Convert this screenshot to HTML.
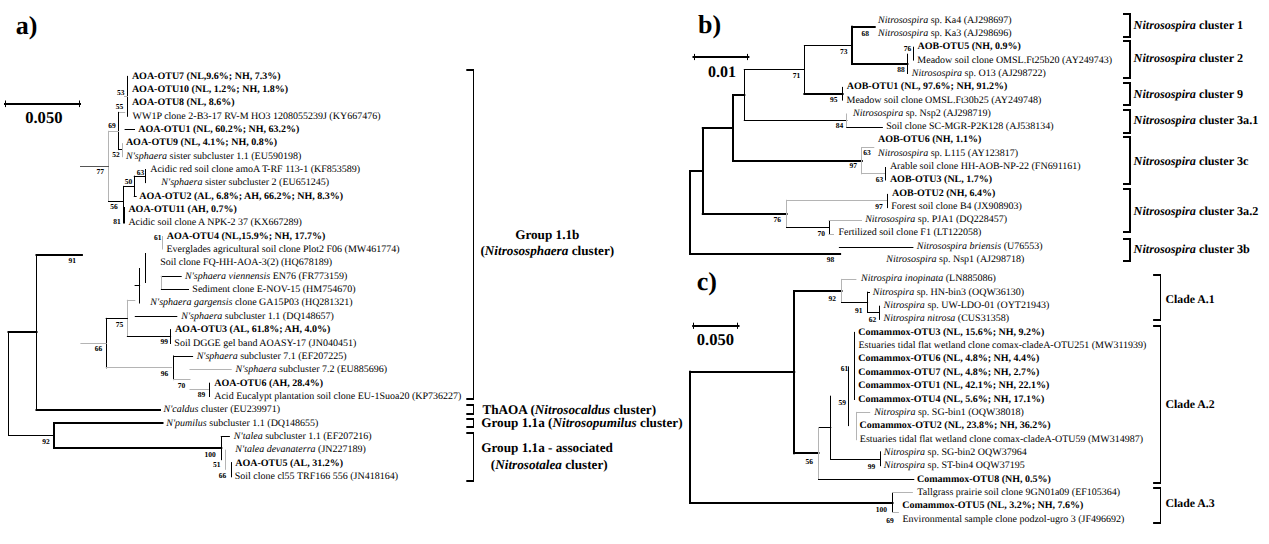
<!DOCTYPE html>
<html><head><meta charset="utf-8"><title>Phylogenetic trees</title>
<style>
html,body{margin:0;padding:0;background:#fff;}
body{width:1269px;height:544px;overflow:hidden;}
svg{display:block;font-family:"Liberation Serif",serif;text-rendering:geometricPrecision;}
</style></head><body>
<svg width="1269" height="544" viewBox="0 0 1269 544">
<rect width="1269" height="544" fill="#fff"/>
<text x="15.66" y="33.60" font-size="26" fill="#000"><tspan font-weight="bold">a)</tspan></text>
<line x1="5.00" y1="104.00" x2="80.00" y2="104.00" stroke="#000" stroke-width="2" stroke-linecap="square"/>
<line x1="5.50" y1="101.00" x2="5.50" y2="106.60" stroke="#000" stroke-width="1" stroke-linecap="square"/>
<line x1="79.50" y1="101.00" x2="79.50" y2="106.60" stroke="#000" stroke-width="1" stroke-linecap="square"/>
<text x="25.17" y="123.00" font-size="16.6" fill="#000"><tspan font-weight="bold">0.050</tspan></text>
<text x="131.90" y="78.50" font-size="10" fill="#000"><tspan font-weight="bold">AOA-OTU7 (NL,9.6%; NH, 7.3%)</tspan></text>
<text x="131.90" y="91.85" font-size="10" fill="#000"><tspan font-weight="bold">AOA-OTU10 (NL, 1.2%; NH, 1.8%)</tspan></text>
<text x="131.90" y="105.20" font-size="10" fill="#000"><tspan font-weight="bold">AOA-OTU8 (NL, 8.6%)</tspan></text>
<text x="132.59" y="118.55" font-size="10" fill="#000"><tspan>WW1P clone 2-B3-17 RV-M HO3 1208055239J (KY667476)</tspan></text>
<text x="138.30" y="131.90" font-size="10" fill="#000"><tspan font-weight="bold">AOA-OTU1 (NL, 60.2%; NH, 63.2%)</tspan></text>
<text x="125.90" y="145.25" font-size="10" fill="#000"><tspan font-weight="bold">AOA-OTU9 (NL, 4.1%; NH, 0.8%)</tspan></text>
<text x="126.07" y="158.60" font-size="10" fill="#000"><tspan font-style="italic">N&#x27;sphaera</tspan><tspan> sister subcluster 1.1 (EU590198)</tspan></text>
<text x="150.20" y="171.95" font-size="10" fill="#000"><tspan>Acidic red soil clone amoA T-RF 113-1 (KF853589)</tspan></text>
<text x="161.37" y="185.30" font-size="10" fill="#000"><tspan font-style="italic">N&#x27;sphaera</tspan><tspan> sister subcluster 2 (EU651245)</tspan></text>
<text x="139.20" y="198.65" font-size="10" fill="#000"><tspan font-weight="bold">AOA-OTU2 (AL, 6.8%; AH, 66.2%; NH, 8.3%)</tspan></text>
<text x="128.40" y="212.00" font-size="10" fill="#000"><tspan font-weight="bold">AOA-OTU11 (AH, 0.7%)</tspan></text>
<text x="128.40" y="225.35" font-size="10" fill="#000"><tspan>Acidic soil clone A NPK-2 37 (KX667289)</tspan></text>
<text x="166.70" y="238.70" font-size="10" fill="#000"><tspan font-weight="bold">AOA-OTU4 (NL,15.9%; NH, 17.7%)</tspan></text>
<text x="166.51" y="252.05" font-size="10" fill="#000"><tspan>Everglades agricultural soil clone Plot2 F06 (MW461774)</tspan></text>
<text x="160.23" y="265.40" font-size="10" fill="#000"><tspan>Soil clone FQ-HH-AOA-3(2) (HQ678189)</tspan></text>
<text x="184.97" y="278.75" font-size="10" fill="#000"><tspan font-style="italic">N&#x27;sphaera viennensis</tspan><tspan> EN76 (FR773159)</tspan></text>
<text x="192.33" y="292.10" font-size="10" fill="#000"><tspan>Sediment clone E-NOV-15 (HM754670)</tspan></text>
<text x="150.37" y="305.45" font-size="10" fill="#000"><tspan font-style="italic">N&#x27;sphaera gargensis</tspan><tspan> clone GA15P03 (HQ281321)</tspan></text>
<text x="181.27" y="318.80" font-size="10" fill="#000"><tspan font-style="italic">N&#x27;sphaera</tspan><tspan> subcluster 1.1 (DQ148657)</tspan></text>
<text x="174.90" y="332.15" font-size="10" fill="#000"><tspan font-weight="bold">AOA-OTU3 (AL, 61.8%; AH, 4.0%)</tspan></text>
<text x="174.33" y="345.50" font-size="10" fill="#000"><tspan>Soil DGGE gel band AOASY-17 (JN040451)</tspan></text>
<text x="196.67" y="358.85" font-size="10" fill="#000"><tspan font-style="italic">N&#x27;sphaera</tspan><tspan> subcluster 7.1 (EF207225)</tspan></text>
<text x="235.47" y="372.20" font-size="10" fill="#000"><tspan font-style="italic">N&#x27;sphaera</tspan><tspan> subcluster 7.2 (EU885696)</tspan></text>
<text x="214.20" y="385.55" font-size="10" fill="#000"><tspan font-weight="bold">AOA-OTU6 (AH, 28.4%)</tspan></text>
<text x="214.20" y="398.90" font-size="10" fill="#000"><tspan>Acid Eucalypt plantation soil clone EU-1Suoa20 (KP736227)</tspan></text>
<text x="163.57" y="412.25" font-size="10" fill="#000"><tspan font-style="italic">N&#x27;caldus</tspan><tspan> cluster (EU239971)</tspan></text>
<text x="166.27" y="425.60" font-size="10" fill="#000"><tspan font-style="italic">N&#x27;pumilus</tspan><tspan> subcluster 1.1 (DQ148655)</tspan></text>
<text x="233.87" y="438.95" font-size="10" fill="#000"><tspan font-style="italic">N&#x27;talea</tspan><tspan> subcluster 1.1 (EF207216)</tspan></text>
<text x="235.37" y="452.30" font-size="10" fill="#000"><tspan font-style="italic">N&#x27;talea devanaterra</tspan><tspan> (JN227189)</tspan></text>
<text x="235.20" y="465.65" font-size="10" fill="#000"><tspan font-weight="bold">AOA-OTU5 (AL, 31.2%)</tspan></text>
<text x="234.63" y="479.00" font-size="10" fill="#000"><tspan>Soil clone cl55 TRF166 556 (JN418164)</tspan></text>
<text x="117.10" y="95.00" font-size="7.5" fill="#000"><tspan font-weight="bold">53</tspan></text>
<text x="115.80" y="108.90" font-size="7.5" fill="#000"><tspan font-weight="bold">55</tspan></text>
<text x="108.14" y="127.50" font-size="7.5" fill="#000"><tspan font-weight="bold">69</tspan></text>
<text x="112.20" y="156.80" font-size="7.5" fill="#000"><tspan font-weight="bold">52</tspan></text>
<text x="96.57" y="174.30" font-size="7.5" fill="#000"><tspan font-weight="bold">77</tspan></text>
<text x="136.74" y="174.70" font-size="7.5" fill="#000"><tspan font-weight="bold">63</tspan></text>
<text x="124.70" y="184.30" font-size="7.5" fill="#000"><tspan font-weight="bold">50</tspan></text>
<text x="110.30" y="209.40" font-size="7.5" fill="#000"><tspan font-weight="bold">56</tspan></text>
<text x="113.25" y="224.10" font-size="7.5" fill="#000"><tspan font-weight="bold">81</tspan></text>
<text x="154.04" y="240.40" font-size="7.5" fill="#000"><tspan font-weight="bold">61</tspan></text>
<text x="68.59" y="262.80" font-size="7.5" fill="#000"><tspan font-weight="bold">91</tspan></text>
<text x="115.77" y="327.10" font-size="7.5" fill="#000"><tspan font-weight="bold">75</tspan></text>
<text x="160.39" y="344.30" font-size="7.5" fill="#000"><tspan font-weight="bold">99</tspan></text>
<text x="94.74" y="351.40" font-size="7.5" fill="#000"><tspan font-weight="bold">66</tspan></text>
<text x="160.79" y="375.90" font-size="7.5" fill="#000"><tspan font-weight="bold">96</tspan></text>
<text x="177.77" y="388.00" font-size="7.5" fill="#000"><tspan font-weight="bold">70</tspan></text>
<text x="197.75" y="397.20" font-size="7.5" fill="#000"><tspan font-weight="bold">89</tspan></text>
<text x="42.19" y="444.10" font-size="7.5" fill="#000"><tspan font-weight="bold">92</tspan></text>
<text x="204.50" y="456.80" font-size="7.5" fill="#000"><tspan font-weight="bold">100</tspan></text>
<text x="212.90" y="467.40" font-size="7.5" fill="#000"><tspan font-weight="bold">51</tspan></text>
<text x="218.84" y="477.50" font-size="7.5" fill="#000"><tspan font-weight="bold">66</tspan></text>
<line x1="127.50" y1="76.40" x2="127.50" y2="116.30" stroke="#000" stroke-width="1" stroke-linecap="square"/>
<line x1="124.50" y1="96.50" x2="127.40" y2="96.50" stroke="#b4b4b4" stroke-width="1" stroke-linecap="square"/>
<line x1="118.70" y1="112.50" x2="124.70" y2="112.50" stroke="#b4b4b4" stroke-width="1" stroke-linecap="square"/>
<line x1="118.50" y1="112.40" x2="118.50" y2="149.60" stroke="#000" stroke-width="1" stroke-linecap="square"/>
<line x1="108.50" y1="131.50" x2="118.60" y2="131.50" stroke="#b4b4b4" stroke-width="1" stroke-linecap="square"/>
<line x1="125.10" y1="129.50" x2="134.50" y2="129.50" stroke="#000" stroke-width="1" stroke-linecap="square"/>
<line x1="118.60" y1="149.50" x2="122.40" y2="149.50" stroke="#000" stroke-width="1" stroke-linecap="square"/>
<line x1="122.50" y1="143.60" x2="122.50" y2="156.70" stroke="#b4b4b4" stroke-width="1" stroke-linecap="square"/>
<line x1="108.50" y1="131.30" x2="108.50" y2="201.30" stroke="#b4b4b4" stroke-width="1" stroke-linecap="square"/>
<line x1="80.50" y1="166.50" x2="108.50" y2="166.50" stroke="#555" stroke-width="1" stroke-linecap="square"/>
<line x1="145.50" y1="169.50" x2="145.50" y2="182.60" stroke="#000" stroke-width="1" stroke-linecap="square"/>
<line x1="134.30" y1="176.50" x2="145.40" y2="176.50" stroke="#000" stroke-width="1" stroke-linecap="square"/>
<line x1="134.50" y1="176.20" x2="134.50" y2="196.50" stroke="#000" stroke-width="1" stroke-linecap="square"/>
<line x1="134.30" y1="196.50" x2="136.20" y2="196.50" stroke="#000" stroke-width="1" stroke-linecap="square"/>
<line x1="123.50" y1="186.50" x2="134.30" y2="186.50" stroke="#000" stroke-width="1" stroke-linecap="square"/>
<line x1="123.50" y1="186.40" x2="123.50" y2="209.00" stroke="#000" stroke-width="1" stroke-linecap="square"/>
<line x1="124.00" y1="208.00" x2="124.00" y2="222.60" stroke="#000" stroke-width="2.0" stroke-linecap="square"/>
<line x1="108.50" y1="201.50" x2="123.50" y2="201.50" stroke="#000" stroke-width="1" stroke-linecap="square"/>
<line x1="162.50" y1="236.50" x2="162.50" y2="249.00" stroke="#b4b4b4" stroke-width="1" stroke-linecap="square"/>
<line x1="145.50" y1="253.50" x2="145.50" y2="282.50" stroke="#000" stroke-width="1" stroke-linecap="square"/>
<line x1="139.50" y1="268.50" x2="139.50" y2="303.00" stroke="#000" stroke-width="1" stroke-linecap="square"/>
<line x1="135.10" y1="285.50" x2="139.60" y2="285.50" stroke="#000" stroke-width="1" stroke-linecap="square"/>
<line x1="161.40" y1="276.50" x2="181.20" y2="276.50" stroke="#000" stroke-width="1" stroke-linecap="square"/>
<line x1="161.50" y1="276.30" x2="161.50" y2="289.40" stroke="#b4b4b4" stroke-width="1" stroke-linecap="square"/>
<line x1="161.40" y1="289.50" x2="188.50" y2="289.50" stroke="#000" stroke-width="1" stroke-linecap="square"/>
<line x1="127.40" y1="300.50" x2="134.80" y2="300.50" stroke="#b4b4b4" stroke-width="1" stroke-linecap="square"/>
<line x1="127.50" y1="300.30" x2="127.50" y2="336.40" stroke="#b4b4b4" stroke-width="1" stroke-linecap="square"/>
<line x1="135.30" y1="316.50" x2="176.80" y2="316.50" stroke="#000" stroke-width="1" stroke-linecap="square"/>
<line x1="106.20" y1="318.50" x2="127.40" y2="318.50" stroke="#000" stroke-width="1" stroke-linecap="square"/>
<line x1="106.50" y1="318.40" x2="106.50" y2="367.80" stroke="#000" stroke-width="1" stroke-linecap="square"/>
<line x1="127.40" y1="336.50" x2="170.60" y2="336.50" stroke="#000" stroke-width="1" stroke-linecap="square"/>
<line x1="170.50" y1="329.60" x2="170.50" y2="343.50" stroke="#000" stroke-width="1" stroke-linecap="square"/>
<line x1="80.90" y1="343.50" x2="106.20" y2="343.50" stroke="#b4b4b4" stroke-width="1" stroke-linecap="square"/>
<line x1="106.20" y1="367.50" x2="171.60" y2="367.50" stroke="#b4b4b4" stroke-width="1" stroke-linecap="square"/>
<line x1="173.50" y1="356.00" x2="173.50" y2="379.60" stroke="#000" stroke-width="1" stroke-linecap="square"/>
<line x1="173.50" y1="356.50" x2="192.60" y2="356.50" stroke="#000" stroke-width="1" stroke-linecap="square"/>
<line x1="190.00" y1="369.50" x2="231.20" y2="369.50" stroke="#b4b4b4" stroke-width="1" stroke-linecap="square"/>
<line x1="173.50" y1="379.50" x2="190.00" y2="379.50" stroke="#b4b4b4" stroke-width="1" stroke-linecap="square"/>
<line x1="190.00" y1="389.50" x2="208.40" y2="389.50" stroke="#b4b4b4" stroke-width="1" stroke-linecap="square"/>
<line x1="209.50" y1="383.20" x2="209.50" y2="396.50" stroke="#000" stroke-width="1" stroke-linecap="square"/>
<line x1="36.50" y1="255.00" x2="81.90" y2="255.00" stroke="#000" stroke-width="2.0" stroke-linecap="square"/>
<line x1="36.50" y1="254.70" x2="36.50" y2="409.90" stroke="#000" stroke-width="1" stroke-linecap="square"/>
<line x1="8.50" y1="332.00" x2="36.50" y2="332.00" stroke="#000" stroke-width="2.0" stroke-linecap="square"/>
<line x1="8.50" y1="331.80" x2="8.50" y2="435.30" stroke="#000" stroke-width="1" stroke-linecap="square"/>
<line x1="8.50" y1="435.50" x2="54.00" y2="435.50" stroke="#000" stroke-width="1" stroke-linecap="square"/>
<line x1="36.50" y1="410.00" x2="160.00" y2="410.00" stroke="#000" stroke-width="2.0" stroke-linecap="square"/>
<line x1="54.00" y1="423.00" x2="54.00" y2="447.60" stroke="#000" stroke-width="2.0" stroke-linecap="square"/>
<line x1="54.00" y1="423.00" x2="162.50" y2="423.00" stroke="#000" stroke-width="2.0" stroke-linecap="square"/>
<line x1="54.00" y1="448.00" x2="221.30" y2="448.00" stroke="#000" stroke-width="2.0" stroke-linecap="square"/>
<line x1="221.50" y1="436.50" x2="221.50" y2="459.70" stroke="#000" stroke-width="1" stroke-linecap="square"/>
<line x1="221.30" y1="436.50" x2="229.40" y2="436.50" stroke="#000" stroke-width="1" stroke-linecap="square"/>
<line x1="225.50" y1="450.10" x2="225.50" y2="469.30" stroke="#b4b4b4" stroke-width="1" stroke-linecap="square"/>
<line x1="231.50" y1="462.60" x2="231.50" y2="476.80" stroke="#000" stroke-width="1" stroke-linecap="square"/>
<line x1="466.30" y1="70.00" x2="474.00" y2="70.00" stroke="#000" stroke-width="2.0" stroke-linecap="butt"/>
<line x1="466.30" y1="399.00" x2="474.00" y2="399.00" stroke="#000" stroke-width="2.0" stroke-linecap="butt"/>
<line x1="473.50" y1="69.00" x2="473.50" y2="400.00" stroke="#000" stroke-width="1" stroke-linecap="butt"/>
<line x1="466.30" y1="405.00" x2="474.00" y2="405.00" stroke="#000" stroke-width="2.0" stroke-linecap="butt"/>
<line x1="466.30" y1="414.00" x2="474.00" y2="414.00" stroke="#000" stroke-width="2.0" stroke-linecap="butt"/>
<line x1="473.50" y1="404.00" x2="473.50" y2="415.00" stroke="#000" stroke-width="1" stroke-linecap="butt"/>
<line x1="466.30" y1="419.00" x2="474.00" y2="419.00" stroke="#000" stroke-width="2.0" stroke-linecap="butt"/>
<line x1="466.30" y1="427.00" x2="474.00" y2="427.00" stroke="#000" stroke-width="2.0" stroke-linecap="butt"/>
<line x1="473.50" y1="418.00" x2="473.50" y2="428.00" stroke="#000" stroke-width="1" stroke-linecap="butt"/>
<line x1="466.30" y1="433.00" x2="474.00" y2="433.00" stroke="#000" stroke-width="2.0" stroke-linecap="butt"/>
<line x1="466.30" y1="481.00" x2="474.00" y2="481.00" stroke="#000" stroke-width="2.0" stroke-linecap="butt"/>
<line x1="473.50" y1="432.00" x2="473.50" y2="482.00" stroke="#000" stroke-width="1" stroke-linecap="butt"/>
<text x="515.16" y="238.90" font-size="13.2" fill="#000"><tspan font-weight="bold">Group 1.1b</tspan></text>
<text x="480.42" y="254.80" font-size="13.2" fill="#000"><tspan font-weight="bold">(</tspan><tspan font-weight="bold" font-style="italic">Nitrososphaera</tspan><tspan font-weight="bold"> cluster)</tspan></text>
<text x="482.39" y="413.50" font-size="13.2" fill="#000"><tspan font-weight="bold">ThAOA (</tspan><tspan font-weight="bold" font-style="italic">Nitrosocaldus</tspan><tspan font-weight="bold"> cluster)</tspan></text>
<text x="481.26" y="426.80" font-size="13.2" fill="#000"><tspan font-weight="bold">Group 1.1a (</tspan><tspan font-weight="bold" font-style="italic">Nitrosopumilus</tspan><tspan font-weight="bold"> cluster)</tspan></text>
<text x="481.26" y="452.40" font-size="13.2" fill="#000"><tspan font-weight="bold">Group 1.1a - associated</tspan></text>
<text x="490.82" y="468.70" font-size="13.2" fill="#000"><tspan font-weight="bold">(</tspan><tspan font-weight="bold" font-style="italic">Nitrosotalea</tspan><tspan font-weight="bold"> cluster)</tspan></text>
<text x="698.07" y="32.60" font-size="26" fill="#000"><tspan font-weight="bold">b)</tspan></text>
<line x1="693.50" y1="57.00" x2="748.40" y2="57.00" stroke="#000" stroke-width="2" stroke-linecap="square"/>
<line x1="694.50" y1="54.40" x2="694.50" y2="59.60" stroke="#000" stroke-width="1" stroke-linecap="square"/>
<line x1="747.50" y1="54.40" x2="747.50" y2="59.60" stroke="#000" stroke-width="1" stroke-linecap="square"/>
<text x="708.09" y="76.50" font-size="16" fill="#000"><tspan font-weight="bold">0.01</tspan></text>
<text x="877.97" y="22.80" font-size="10" fill="#000"><tspan font-style="italic">Nitrosospira</tspan><tspan> sp. Ka4 (AJ298697)</tspan></text>
<text x="877.97" y="36.09" font-size="10" fill="#000"><tspan font-style="italic">Nitrosospira</tspan><tspan> sp. Ka3 (AJ298696)</tspan></text>
<text x="917.50" y="49.38" font-size="10" fill="#000"><tspan font-weight="bold">AOB-OTU5 (NH, 0.9%)</tspan></text>
<text x="917.31" y="62.67" font-size="10" fill="#000"><tspan>Meadow soil clone OMSL.Ft25b20 (AY249743)</tspan></text>
<text x="911.87" y="75.96" font-size="10" fill="#000"><tspan font-style="italic">Nitrosospira</tspan><tspan> sp. O13 (AJ298722)</tspan></text>
<text x="846.70" y="89.25" font-size="10" fill="#000"><tspan font-weight="bold">AOB-OTU1 (NL, 97.6%; NH, 91.2%)</tspan></text>
<text x="846.51" y="102.54" font-size="10" fill="#000"><tspan>Meadow soil clone OMSL.Ft30b25 (AY249748)</tspan></text>
<text x="852.97" y="115.83" font-size="10" fill="#000"><tspan font-style="italic">Nitrosospira</tspan><tspan> sp. Nsp2 (AJ298719)</tspan></text>
<text x="886.13" y="129.12" font-size="10" fill="#000"><tspan>Soil clone SC-MGR-P2K128 (AJ538134)</tspan></text>
<text x="878.10" y="142.41" font-size="10" fill="#000"><tspan font-weight="bold">AOB-OTU6 (NH, 1.1%)</tspan></text>
<text x="877.97" y="155.70" font-size="10" fill="#000"><tspan font-style="italic">Nitrosospira</tspan><tspan> sp. L115 (AY123817)</tspan></text>
<text x="889.90" y="168.99" font-size="10" fill="#000"><tspan>Arable soil clone HH-AOB-NP-22 (FN691161)</tspan></text>
<text x="889.90" y="182.28" font-size="10" fill="#000"><tspan font-weight="bold">AOB-OTU3 (NL, 1.7%)</tspan></text>
<text x="892.10" y="195.57" font-size="10" fill="#000"><tspan font-weight="bold">AOB-OTU2 (NH, 6.4%)</tspan></text>
<text x="891.31" y="208.86" font-size="10" fill="#000"><tspan>Forest soil clone B4 (JX908903)</tspan></text>
<text x="865.17" y="222.15" font-size="10" fill="#000"><tspan font-style="italic">Nitrosospira</tspan><tspan> sp. PJA1 (DQ228457)</tspan></text>
<text x="838.41" y="235.44" font-size="10" fill="#000"><tspan>Fertilized soil clone F1 (LT122058)</tspan></text>
<text x="916.77" y="248.73" font-size="10" fill="#000"><tspan font-style="italic">Nitrosospira briensis</tspan><tspan> (U76553)</tspan></text>
<text x="886.37" y="262.02" font-size="10" fill="#000"><tspan font-style="italic">Nitrosospira</tspan><tspan> sp. Nsp1 (AJ298718)</tspan></text>
<text x="792.77" y="77.60" font-size="7.5" fill="#000"><tspan font-weight="bold">71</tspan></text>
<text x="839.97" y="53.70" font-size="7.5" fill="#000"><tspan font-weight="bold">73</tspan></text>
<text x="861.54" y="36.00" font-size="7.5" fill="#000"><tspan font-weight="bold">68</tspan></text>
<text x="903.87" y="51.00" font-size="7.5" fill="#000"><tspan font-weight="bold">76</tspan></text>
<text x="897.35" y="71.60" font-size="7.5" fill="#000"><tspan font-weight="bold">88</tspan></text>
<text x="829.89" y="101.60" font-size="7.5" fill="#000"><tspan font-weight="bold">95</tspan></text>
<text x="835.75" y="128.10" font-size="7.5" fill="#000"><tspan font-weight="bold">84</tspan></text>
<text x="863.24" y="155.00" font-size="7.5" fill="#000"><tspan font-weight="bold">63</tspan></text>
<text x="849.39" y="167.50" font-size="7.5" fill="#000"><tspan font-weight="bold">97</tspan></text>
<text x="875.74" y="182.20" font-size="7.5" fill="#000"><tspan font-weight="bold">63</tspan></text>
<text x="875.19" y="209.10" font-size="7.5" fill="#000"><tspan font-weight="bold">97</tspan></text>
<text x="773.57" y="222.40" font-size="7.5" fill="#000"><tspan font-weight="bold">76</tspan></text>
<text x="817.57" y="235.60" font-size="7.5" fill="#000"><tspan font-weight="bold">70</tspan></text>
<text x="826.69" y="262.10" font-size="7.5" fill="#000"><tspan font-weight="bold">98</tspan></text>
<line x1="804.40" y1="45.50" x2="852.20" y2="45.50" stroke="#000" stroke-width="1" stroke-linecap="square"/>
<line x1="804.50" y1="45.60" x2="804.50" y2="93.80" stroke="#000" stroke-width="1" stroke-linecap="square"/>
<line x1="744.30" y1="69.50" x2="804.50" y2="69.50" stroke="#000" stroke-width="1" stroke-linecap="square"/>
<line x1="852.00" y1="26.80" x2="852.00" y2="64.00" stroke="#000" stroke-width="2.0" stroke-linecap="square"/>
<line x1="852.20" y1="27.00" x2="874.70" y2="27.00" stroke="#000" stroke-width="2.0" stroke-linecap="square"/>
<line x1="852.20" y1="64.00" x2="907.40" y2="64.00" stroke="#000" stroke-width="2.0" stroke-linecap="square"/>
<line x1="907.50" y1="54.20" x2="907.50" y2="73.50" stroke="#000" stroke-width="1" stroke-linecap="square"/>
<line x1="913.50" y1="47.20" x2="913.50" y2="60.10" stroke="#000" stroke-width="1" stroke-linecap="square"/>
<line x1="804.40" y1="94.00" x2="842.60" y2="94.00" stroke="#000" stroke-width="2.0" stroke-linecap="square"/>
<line x1="842.50" y1="87.40" x2="842.50" y2="100.10" stroke="#000" stroke-width="1" stroke-linecap="square"/>
<line x1="744.50" y1="69.90" x2="744.50" y2="120.50" stroke="#000" stroke-width="1" stroke-linecap="square"/>
<line x1="744.30" y1="120.50" x2="846.80" y2="120.50" stroke="#000" stroke-width="1" stroke-linecap="square"/>
<line x1="846.50" y1="114.00" x2="846.50" y2="127.40" stroke="#b4b4b4" stroke-width="1" stroke-linecap="square"/>
<line x1="846.80" y1="127.50" x2="882.40" y2="127.50" stroke="#000" stroke-width="1" stroke-linecap="square"/>
<line x1="733.00" y1="95.00" x2="744.30" y2="95.00" stroke="#000" stroke-width="2.0" stroke-linecap="square"/>
<line x1="733.00" y1="95.00" x2="733.00" y2="160.60" stroke="#000" stroke-width="2.0" stroke-linecap="square"/>
<line x1="733.00" y1="161.00" x2="861.80" y2="161.00" stroke="#000" stroke-width="2.0" stroke-linecap="square"/>
<line x1="861.50" y1="147.60" x2="861.50" y2="173.80" stroke="#b4b4b4" stroke-width="1" stroke-linecap="square"/>
<line x1="861.80" y1="147.50" x2="873.80" y2="147.50" stroke="#b4b4b4" stroke-width="1" stroke-linecap="square"/>
<line x1="861.80" y1="173.50" x2="884.90" y2="173.50" stroke="#b4b4b4" stroke-width="1" stroke-linecap="square"/>
<line x1="885.50" y1="167.50" x2="885.50" y2="180.00" stroke="#000" stroke-width="1" stroke-linecap="square"/>
<line x1="702.80" y1="128.00" x2="733.00" y2="128.00" stroke="#000" stroke-width="2.0" stroke-linecap="square"/>
<line x1="703.00" y1="128.10" x2="703.00" y2="213.50" stroke="#000" stroke-width="2.0" stroke-linecap="square"/>
<line x1="702.80" y1="214.00" x2="786.60" y2="214.00" stroke="#000" stroke-width="2.0" stroke-linecap="square"/>
<line x1="690.00" y1="171.00" x2="702.80" y2="171.00" stroke="#000" stroke-width="2.0" stroke-linecap="square"/>
<line x1="690.00" y1="170.90" x2="690.00" y2="253.70" stroke="#000" stroke-width="2.0" stroke-linecap="square"/>
<line x1="690.00" y1="254.00" x2="840.10" y2="254.00" stroke="#000" stroke-width="2.0" stroke-linecap="square"/>
<line x1="786.50" y1="200.30" x2="786.50" y2="227.50" stroke="#b4b4b4" stroke-width="1" stroke-linecap="square"/>
<line x1="786.50" y1="200.50" x2="887.20" y2="200.50" stroke="#b4b4b4" stroke-width="1" stroke-linecap="square"/>
<line x1="887.50" y1="194.40" x2="887.50" y2="207.60" stroke="#000" stroke-width="1" stroke-linecap="square"/>
<line x1="786.50" y1="227.50" x2="829.10" y2="227.50" stroke="#000" stroke-width="1" stroke-linecap="square"/>
<line x1="829.50" y1="220.90" x2="829.50" y2="234.10" stroke="#000" stroke-width="1" stroke-linecap="square"/>
<line x1="829.10" y1="220.50" x2="861.50" y2="220.50" stroke="#b4b4b4" stroke-width="1" stroke-linecap="square"/>
<line x1="829.10" y1="234.50" x2="833.50" y2="234.50" stroke="#b4b4b4" stroke-width="1" stroke-linecap="square"/>
<line x1="839.40" y1="247.50" x2="912.90" y2="247.50" stroke="#000" stroke-width="1" stroke-linecap="square"/>
<line x1="1123.00" y1="14.00" x2="1131.00" y2="14.00" stroke="#000" stroke-width="2.0" stroke-linecap="butt"/>
<line x1="1123.00" y1="37.00" x2="1131.00" y2="37.00" stroke="#000" stroke-width="2.0" stroke-linecap="butt"/>
<line x1="1130.00" y1="13.00" x2="1130.00" y2="38.00" stroke="#000" stroke-width="2.0" stroke-linecap="butt"/>
<line x1="1123.00" y1="41.00" x2="1131.00" y2="41.00" stroke="#000" stroke-width="2.0" stroke-linecap="butt"/>
<line x1="1123.00" y1="78.00" x2="1131.00" y2="78.00" stroke="#000" stroke-width="2.0" stroke-linecap="butt"/>
<line x1="1130.00" y1="40.00" x2="1130.00" y2="79.00" stroke="#000" stroke-width="2.0" stroke-linecap="butt"/>
<line x1="1123.00" y1="83.00" x2="1131.00" y2="83.00" stroke="#000" stroke-width="2.0" stroke-linecap="butt"/>
<line x1="1123.00" y1="105.00" x2="1131.00" y2="105.00" stroke="#000" stroke-width="2.0" stroke-linecap="butt"/>
<line x1="1130.00" y1="82.00" x2="1130.00" y2="106.00" stroke="#000" stroke-width="2.0" stroke-linecap="butt"/>
<line x1="1123.00" y1="110.00" x2="1131.00" y2="110.00" stroke="#000" stroke-width="2.0" stroke-linecap="butt"/>
<line x1="1123.00" y1="133.00" x2="1131.00" y2="133.00" stroke="#000" stroke-width="2.0" stroke-linecap="butt"/>
<line x1="1130.00" y1="109.00" x2="1130.00" y2="134.00" stroke="#000" stroke-width="2.0" stroke-linecap="butt"/>
<line x1="1123.00" y1="137.00" x2="1131.00" y2="137.00" stroke="#000" stroke-width="2.0" stroke-linecap="butt"/>
<line x1="1123.00" y1="184.00" x2="1131.00" y2="184.00" stroke="#000" stroke-width="2.0" stroke-linecap="butt"/>
<line x1="1130.00" y1="136.00" x2="1130.00" y2="185.00" stroke="#000" stroke-width="2.0" stroke-linecap="butt"/>
<line x1="1123.00" y1="189.00" x2="1131.00" y2="189.00" stroke="#000" stroke-width="2.0" stroke-linecap="butt"/>
<line x1="1123.00" y1="232.00" x2="1131.00" y2="232.00" stroke="#000" stroke-width="2.0" stroke-linecap="butt"/>
<line x1="1130.00" y1="188.00" x2="1130.00" y2="233.00" stroke="#000" stroke-width="2.0" stroke-linecap="butt"/>
<line x1="1123.00" y1="239.00" x2="1131.00" y2="239.00" stroke="#000" stroke-width="2.0" stroke-linecap="butt"/>
<line x1="1123.00" y1="261.00" x2="1131.00" y2="261.00" stroke="#000" stroke-width="2.0" stroke-linecap="butt"/>
<line x1="1130.00" y1="238.00" x2="1130.00" y2="262.00" stroke="#000" stroke-width="2.0" stroke-linecap="butt"/>
<text x="1133.61" y="28.70" font-size="12.2" fill="#000"><tspan font-weight="bold" font-style="italic">Nitrosospira</tspan><tspan font-weight="bold"> cluster 1</tspan></text>
<text x="1133.61" y="61.80" font-size="12.2" fill="#000"><tspan font-weight="bold" font-style="italic">Nitrosospira</tspan><tspan font-weight="bold"> cluster 2</tspan></text>
<text x="1133.61" y="97.60" font-size="12.2" fill="#000"><tspan font-weight="bold" font-style="italic">Nitrosospira</tspan><tspan font-weight="bold"> cluster 9</tspan></text>
<text x="1133.61" y="124.40" font-size="12.2" fill="#000"><tspan font-weight="bold" font-style="italic">Nitrosospira</tspan><tspan font-weight="bold"> cluster 3a.1</tspan></text>
<text x="1133.61" y="164.70" font-size="12.2" fill="#000"><tspan font-weight="bold" font-style="italic">Nitrosospira</tspan><tspan font-weight="bold"> cluster 3c</tspan></text>
<text x="1133.61" y="214.70" font-size="12.2" fill="#000"><tspan font-weight="bold" font-style="italic">Nitrosospira</tspan><tspan font-weight="bold"> cluster 3a.2</tspan></text>
<text x="1133.61" y="253.40" font-size="12.2" fill="#000"><tspan font-weight="bold" font-style="italic">Nitrosospira</tspan><tspan font-weight="bold"> cluster 3b</tspan></text>
<text x="696.71" y="290.10" font-size="26" fill="#000"><tspan font-weight="bold">c)</tspan></text>
<line x1="693.20" y1="326.00" x2="738.50" y2="326.00" stroke="#000" stroke-width="2" stroke-linecap="square"/>
<line x1="693.50" y1="323.20" x2="693.50" y2="328.40" stroke="#000" stroke-width="1" stroke-linecap="square"/>
<line x1="737.50" y1="323.20" x2="737.50" y2="328.40" stroke="#000" stroke-width="1" stroke-linecap="square"/>
<text x="696.77" y="345.30" font-size="16.6" fill="#000"><tspan font-weight="bold">0.050</tspan></text>
<text x="861.07" y="281.20" font-size="10" fill="#000"><tspan font-style="italic">Nitrospira inopinata</tspan><tspan> (LN885086)</tspan></text>
<text x="872.87" y="294.57" font-size="10" fill="#000"><tspan font-style="italic">Nitrospira</tspan><tspan> sp. HN-bin3 (OQW36130)</tspan></text>
<text x="883.57" y="307.94" font-size="10" fill="#000"><tspan font-style="italic">Nitrospira</tspan><tspan> sp. UW-LDO-01 (OYT21943)</tspan></text>
<text x="883.57" y="321.31" font-size="10" fill="#000"><tspan font-style="italic">Nitrospira nitrosa</tspan><tspan> (CUS31358)</tspan></text>
<text x="858.31" y="334.68" font-size="10" fill="#000"><tspan font-weight="bold">Comammox-OTU3 (NL, 15.6%; NH, 9.2%)</tspan></text>
<text x="858.51" y="348.05" font-size="10" fill="#000"><tspan>Estuaries tidal flat wetland clone comax-cladeA-OTU251 (MW311939)</tspan></text>
<text x="858.31" y="361.42" font-size="10" fill="#000"><tspan font-weight="bold">Comammox-OTU6 (NL, 4.8%; NH, 4.4%)</tspan></text>
<text x="858.31" y="374.79" font-size="10" fill="#000"><tspan font-weight="bold">Comammox-OTU7 (NL, 4.8%; NH, 2.7%)</tspan></text>
<text x="858.31" y="388.16" font-size="10" fill="#000"><tspan font-weight="bold">Comammox-OTU1 (NL, 42.1%; NH, 22.1%)</tspan></text>
<text x="858.31" y="401.53" font-size="10" fill="#000"><tspan font-weight="bold">Comammox-OTU4 (NL, 5.6%; NH, 17.1%)</tspan></text>
<text x="874.17" y="414.90" font-size="10" fill="#000"><tspan font-style="italic">Nitrospira</tspan><tspan> sp. SG-bin1 (OQW38018)</tspan></text>
<text x="859.61" y="428.27" font-size="10" fill="#000"><tspan font-weight="bold">Comammox-OTU2 (NL, 23.8%; NH, 36.2%)</tspan></text>
<text x="859.81" y="441.64" font-size="10" fill="#000"><tspan>Estuaries tidal flat wetland clone comax-cladeA-OTU59 (MW314987)</tspan></text>
<text x="883.77" y="455.01" font-size="10" fill="#000"><tspan font-style="italic">Nitrospira</tspan><tspan> sp. SG-bin2 OQW37964</tspan></text>
<text x="883.77" y="468.38" font-size="10" fill="#000"><tspan font-style="italic">Nitrospira</tspan><tspan> sp. ST-bin4 OQW37195</tspan></text>
<text x="917.01" y="481.75" font-size="10" fill="#000"><tspan font-weight="bold">Comammox-OTU8 (NH, 0.5%)</tspan></text>
<text x="917.32" y="495.12" font-size="10" fill="#000"><tspan>Tallgrass prairie soil clone 9GN01a09 (EF105364)</tspan></text>
<text x="902.31" y="508.49" font-size="10" fill="#000"><tspan font-weight="bold">Comammox-OTU5 (NL, 3.2%; NH, 7.6%)</tspan></text>
<text x="902.51" y="521.86" font-size="10" fill="#000"><tspan>Environmental sample clone podzol-ugro 3 (JF496692)</tspan></text>
<text x="828.49" y="301.00" font-size="7.5" fill="#000"><tspan font-weight="bold">92</tspan></text>
<text x="854.89" y="312.80" font-size="7.5" fill="#000"><tspan font-weight="bold">91</tspan></text>
<text x="868.84" y="321.60" font-size="7.5" fill="#000"><tspan font-weight="bold">62</tspan></text>
<text x="840.64" y="371.30" font-size="7.5" fill="#000"><tspan font-weight="bold">61</tspan></text>
<text x="838.50" y="404.70" font-size="7.5" fill="#000"><tspan font-weight="bold">59</tspan></text>
<text x="805.40" y="463.50" font-size="7.5" fill="#000"><tspan font-weight="bold">56</tspan></text>
<text x="867.69" y="468.70" font-size="7.5" fill="#000"><tspan font-weight="bold">99</tspan></text>
<text x="875.70" y="512.40" font-size="7.5" fill="#000"><tspan font-weight="bold">100</tspan></text>
<text x="886.34" y="522.60" font-size="7.5" fill="#000"><tspan font-weight="bold">69</tspan></text>
<line x1="794.00" y1="290.90" x2="794.00" y2="453.20" stroke="#000" stroke-width="2.0" stroke-linecap="square"/>
<line x1="794.20" y1="291.00" x2="841.50" y2="291.00" stroke="#000" stroke-width="2.0" stroke-linecap="square"/>
<line x1="690.00" y1="372.00" x2="794.20" y2="372.00" stroke="#000" stroke-width="2.0" stroke-linecap="square"/>
<line x1="690.00" y1="371.80" x2="690.00" y2="502.80" stroke="#000" stroke-width="2.0" stroke-linecap="square"/>
<line x1="690.00" y1="503.00" x2="892.50" y2="503.00" stroke="#000" stroke-width="2.0" stroke-linecap="square"/>
<line x1="841.50" y1="279.40" x2="841.50" y2="302.50" stroke="#b4b4b4" stroke-width="1" stroke-linecap="square"/>
<line x1="841.50" y1="279.50" x2="855.90" y2="279.50" stroke="#b4b4b4" stroke-width="1" stroke-linecap="square"/>
<line x1="841.50" y1="302.50" x2="867.60" y2="302.50" stroke="#000" stroke-width="1" stroke-linecap="square"/>
<line x1="867.50" y1="292.20" x2="867.50" y2="312.40" stroke="#000" stroke-width="1" stroke-linecap="square"/>
<line x1="867.60" y1="292.50" x2="869.50" y2="292.50" stroke="#000" stroke-width="1" stroke-linecap="square"/>
<line x1="867.60" y1="312.50" x2="879.40" y2="312.50" stroke="#000" stroke-width="1" stroke-linecap="square"/>
<line x1="879.50" y1="306.20" x2="879.50" y2="319.40" stroke="#000" stroke-width="1" stroke-linecap="square"/>
<line x1="854.50" y1="332.40" x2="854.50" y2="399.50" stroke="#000" stroke-width="1" stroke-linecap="square"/>
<line x1="848.50" y1="366.90" x2="848.50" y2="425.60" stroke="#000" stroke-width="1" stroke-linecap="square"/>
<line x1="830.50" y1="396.20" x2="830.50" y2="459.40" stroke="#000" stroke-width="1" stroke-linecap="square"/>
<line x1="818.50" y1="427.50" x2="830.80" y2="427.50" stroke="#000" stroke-width="1" stroke-linecap="square"/>
<line x1="794.20" y1="453.00" x2="818.50" y2="453.00" stroke="#000" stroke-width="2.0" stroke-linecap="square"/>
<line x1="818.50" y1="427.50" x2="818.50" y2="479.30" stroke="#b4b4b4" stroke-width="1" stroke-linecap="square"/>
<line x1="830.80" y1="459.50" x2="880.00" y2="459.50" stroke="#000" stroke-width="1" stroke-linecap="square"/>
<line x1="880.50" y1="451.80" x2="880.50" y2="465.70" stroke="#000" stroke-width="1" stroke-linecap="square"/>
<line x1="856.50" y1="412.40" x2="856.50" y2="439.70" stroke="#b4b4b4" stroke-width="1" stroke-linecap="square"/>
<line x1="856.50" y1="412.50" x2="869.70" y2="412.50" stroke="#b4b4b4" stroke-width="1" stroke-linecap="square"/>
<line x1="818.50" y1="479.50" x2="913.80" y2="479.50" stroke="#000" stroke-width="1" stroke-linecap="square"/>
<line x1="892.50" y1="492.90" x2="892.50" y2="512.40" stroke="#000" stroke-width="1" stroke-linecap="square"/>
<line x1="892.50" y1="492.50" x2="912.40" y2="492.50" stroke="#b4b4b4" stroke-width="1" stroke-linecap="square"/>
<line x1="892.50" y1="512.50" x2="898.40" y2="512.50" stroke="#b4b4b4" stroke-width="1" stroke-linecap="square"/>
<line x1="1153.10" y1="275.00" x2="1161.00" y2="275.00" stroke="#000" stroke-width="2.0" stroke-linecap="butt"/>
<line x1="1153.10" y1="320.00" x2="1161.00" y2="320.00" stroke="#000" stroke-width="2.0" stroke-linecap="butt"/>
<line x1="1160.50" y1="274.00" x2="1160.50" y2="321.00" stroke="#000" stroke-width="1" stroke-linecap="butt"/>
<line x1="1153.10" y1="326.00" x2="1161.00" y2="326.00" stroke="#000" stroke-width="2.0" stroke-linecap="butt"/>
<line x1="1153.10" y1="483.00" x2="1161.00" y2="483.00" stroke="#000" stroke-width="2.0" stroke-linecap="butt"/>
<line x1="1160.50" y1="325.00" x2="1160.50" y2="484.00" stroke="#000" stroke-width="1" stroke-linecap="butt"/>
<line x1="1153.10" y1="488.00" x2="1161.00" y2="488.00" stroke="#000" stroke-width="2.0" stroke-linecap="butt"/>
<line x1="1153.10" y1="523.00" x2="1161.00" y2="523.00" stroke="#000" stroke-width="2.0" stroke-linecap="butt"/>
<line x1="1160.50" y1="487.00" x2="1160.50" y2="524.00" stroke="#000" stroke-width="1" stroke-linecap="butt"/>
<text x="1165.52" y="302.60" font-size="11.8" fill="#000"><tspan font-weight="bold">Clade A.1</tspan></text>
<text x="1165.52" y="407.60" font-size="11.8" fill="#000"><tspan font-weight="bold">Clade A.2</tspan></text>
<text x="1165.52" y="507.40" font-size="11.8" fill="#000"><tspan font-weight="bold">Clade A.3</tspan></text>
</svg>
</body></html>
